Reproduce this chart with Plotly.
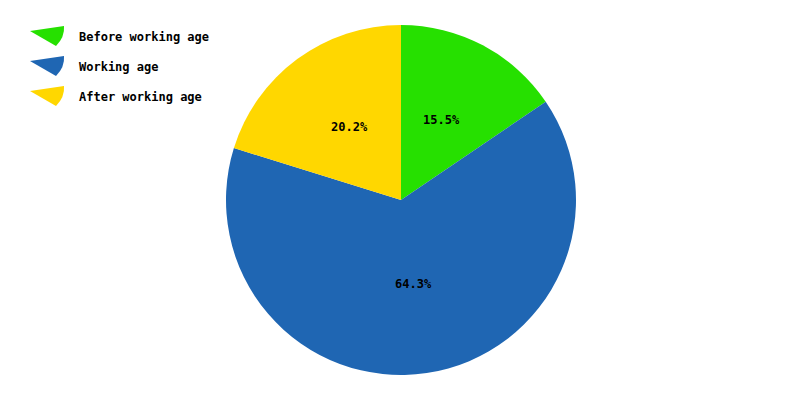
import math
import plotly.graph_objects as go

labels = ["Before working age", "Working age", "After working age"]
shares = [15.5, 64.3, 20.2]
colors = ["#26e000", "#1f66b3", "#ffd700"]

FONT = "DejaVu Sans Mono"
W, H = 800, 400
OFF = 8  # the page body adds an 8px margin; shift everything back
CX, CY, R = 401, 200, 175


def px(x, y):
    return f"{(x - OFF) / W:.4f},{1 - (y - OFF) / H:.4f}"


fig = go.Figure(
    go.Pie(
        labels=labels,
        values=shares,
        sort=False,
        direction="clockwise",
        rotation=0,
        marker=dict(colors=colors, line=dict(width=0)),
        textinfo="none",
        domain=dict(x=[0, (2 * CX - 2 * OFF) / W],
                    y=[1 - (CY + R - OFF) / H, 1 - (CY - R - OFF) / H]),
        showlegend=False,
    )
)

# percentage labels at half radius on each slice's mid angle
total = sum(shares)
start = 0.0
for v in shares:
    mid = (start + v / 2) / total * 2 * math.pi
    start += v
    x = CX + 0.5 * R * math.sin(mid)
    y = CY - 0.5 * R * math.cos(mid) - 3
    fig.add_annotation(x=(x - OFF) / W, y=1 - (y - OFF) / H,
                       xref="paper", yref="paper",
                       text=f"<b>{v / total * 100:.1f}%</b>", showarrow=False,
                       xanchor="center", yanchor="middle",
                       font=dict(family=FONT, size=12, color="black"))

# hand-drawn legend with wedge icons, like the original
for i, (name, col) in enumerate(zip(labels, colors)):
    yc = 37 + 30 * i
    path = (f"M {px(30, yc - 6)} L {px(64, yc - 11)} "
            f"Q {px(65, yc)} {px(56, yc + 9)} Z")
    fig.add_shape(type="path", xref="paper", yref="paper", path=path,
                  fillcolor=col, line=dict(width=0))
    fig.add_annotation(x=(77 - OFF) / W, y=1 - (yc - OFF) / H,
                       xref="paper", yref="paper",
                       text=f"<b>{name}</b>", showarrow=False,
                       xanchor="left", yanchor="middle",
                       font=dict(family=FONT, size=12, color="black"))

fig.update_layout(
    width=W,
    height=H,
    margin=dict(l=0, r=0, t=0, b=0),
    paper_bgcolor="white",
    plot_bgcolor="white",
)

fig.write_html("out.html")
